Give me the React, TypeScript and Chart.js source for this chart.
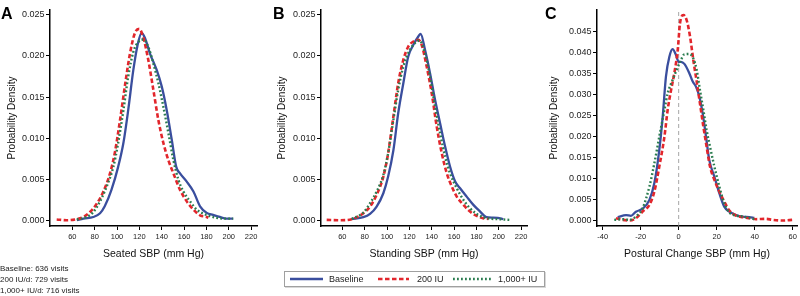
import React, { useEffect, useRef } from 'react';
import { Chart, registerables } from 'chart.js';

Chart.register(...registerables);

const FONT = "'Liberation Sans', Arial, Helvetica, sans-serif";

// ---------- Panel A: Seated SBP ----------
const seatedBaselineX = [64, 70, 78.8, 84.8, 89, 95, 101, 105.7, 110, 114.6, 118.2, 122, 125, 129.5, 135.5, 140, 144.5, 149, 153, 156.4, 162.4, 168.4, 174.3, 180.3, 186, 192, 198, 204];
const seatedBaselineY = [0.0000, 0.0002, 0.0004, 0.00085, 0.0017, 0.0037, 0.0065, 0.0094, 0.0134, 0.0183, 0.0212, 0.0228, 0.0222, 0.0203, 0.0183, 0.0163, 0.0134, 0.0098, 0.0065, 0.0057, 0.0047, 0.0035, 0.0017, 0.0009, 0.00065, 0.0004, 0.0002, 0.0002];
const seated200X = [46, 55, 62.4, 70, 75.8, 81.8, 87.8, 93.7, 98, 102.7, 107.2, 111.6, 116, 119.9, 123.6, 128, 132.5, 137, 141.5, 146, 150.5, 156.4, 162.4, 168.4, 174.3, 180.3, 181.8];
const seated200Y = [0.0001, 0.0, 0.0001, 0.0004, 0.001, 0.002, 0.0035, 0.0057, 0.0082, 0.0122, 0.0165, 0.0203, 0.0228, 0.0233, 0.0222, 0.0195, 0.0159, 0.0122, 0.0094, 0.0073, 0.0057, 0.0037, 0.0023, 0.0013, 0.0006, 0.0004, 0.0003];
const seated1000X = [64, 72.8, 78.8, 84.8, 90.7, 96.7, 101, 105.7, 110, 114.6, 119, 123.6, 128, 132.5, 137, 141.5, 146, 150.5, 155, 159.4, 165.4, 171.3, 177.3, 183.3, 189, 195, 204];
const seated1000Y = [0.0001, 0.0004, 0.001, 0.0023, 0.0041, 0.0065, 0.0094, 0.0134, 0.0175, 0.0205, 0.0217, 0.022, 0.0211, 0.0191, 0.0167, 0.0138, 0.0106, 0.0073, 0.0049, 0.0035, 0.0023, 0.0013, 0.0008, 0.0005, 0.0003, 0.0002, 0.0002];

// ---------- Panel B: Standing SBP ----------
const standingBaselineX = [68.4, 78.8, 84.8, 90.7, 96.7, 101, 105.7, 110, 114.6, 119, 123.6, 128, 130.1, 134, 138.5, 143, 147.5, 152, 156.4, 161, 165.4, 171.3, 177.3, 183.3, 189, 195, 202.5, 204];
const standingBaselineY = [0.00016, 0.00037, 0.00077, 0.00166, 0.00329, 0.00532, 0.00852, 0.01303, 0.01669, 0.01994, 0.02136, 0.02237, 0.0227, 0.02075, 0.01791, 0.01466, 0.01181, 0.00897, 0.00654, 0.00471, 0.0039, 0.00288, 0.00187, 0.00106, 0.00037, 0.00032, 0.0002, 0.00012];
const standing200X = [46, 58, 68.4, 78.8, 84.8, 90.7, 96.7, 101, 105.7, 110, 114.6, 119, 123.6, 128, 131, 135.5, 140, 144.5, 149, 153.5, 158, 162.4, 168.4, 174.3, 180.3, 186, 190.8];
const standing200Y = [0.00004, 0.0, 0.00012, 0.00085, 0.00166, 0.00309, 0.00532, 0.00816, 0.01263, 0.01669, 0.01953, 0.02115, 0.02176, 0.02196, 0.02136, 0.01872, 0.01547, 0.01141, 0.00816, 0.00572, 0.0041, 0.00288, 0.00187, 0.00106, 0.00053, 0.00024, 0.00016];
const standing1000X = [68.4, 78.8, 84.8, 90.7, 96.7, 101, 105.7, 110, 114.6, 119, 123.6, 129, 134, 138.5, 143, 147.5, 152, 156.4, 162.4, 168.4, 174.3, 180.3, 186, 192, 201, 210];
const standing1000Y = [0.00016, 0.00093, 0.00207, 0.00349, 0.00552, 0.00816, 0.01222, 0.01587, 0.01872, 0.02034, 0.02136, 0.02188, 0.02034, 0.0175, 0.01385, 0.0106, 0.00775, 0.00572, 0.0039, 0.00248, 0.00146, 0.00077, 0.00037, 0.0002, 0.00012, 0.00004];

// ---------- Panel C: Postural change SBP ----------
const posturalBaselineX = [-32.1, -27.7, -25.1, -22.5, -19, -15.4, -12.8, -10.2, -8.4, -6.7, -4.9, -3.2, -1.4, 0, 1.2, 3, 5.6, 7.4, 9.1, 10.9, 12.6, 14.4, 16.1, 18.8, 21.4, 24, 26.7, 30.2, 33.7, 37.2, 39.8];
const posturalBaselineY = [0.0008, 0.0013, 0.0011, 0.0021, 0.0028, 0.0049, 0.0089, 0.0168, 0.0247, 0.0342, 0.0389, 0.0407, 0.0393, 0.0377, 0.0377, 0.0372, 0.035, 0.033, 0.0318, 0.0294, 0.0255, 0.0199, 0.0144, 0.0104, 0.0065, 0.0033, 0.0021, 0.0013, 0.0009, 0.0008, 0.0006];
const postural200X = [-33, -29.5, -26, -22.5, -19, -15.4, -12.8, -10.2, -7.5, -5.8, -4, -2.3, -0.5, 0.7, 2.5, 4.2, 6, 7.7, 9.5, 11.2, 13, 14.7, 16.5, 18.8, 21.4, 24, 26.7, 30.2, 33.7, 37.2, 40.7, 46, 49.5, 54.7, 60];
const postural200Y = [0.00055, 0.00016, 0.0, 0.00055, 0.00214, 0.00372, 0.00688, 0.01281, 0.01993, 0.02626, 0.031, 0.03496, 0.0405, 0.04683, 0.0488, 0.04762, 0.04367, 0.03813, 0.03298, 0.02784, 0.02231, 0.01756, 0.01281, 0.00965, 0.00688, 0.00451, 0.00237, 0.00119, 0.00079, 0.00055, 0.00032, 0.0004, 0.00016, 0.0, 0.00016];
const postural1000X = [-33.9, -29.5, -26, -22.5, -19, -15.4, -12.8, -10.2, -7.5, -5.8, -3.2, -1.1, 1.2, 3, 5.6, 7.7, 9.5, 11.2, 13, 14.7, 16.5, 18.8, 21.4, 24, 26.7, 30.2, 33.7, 37.2, 39.8];
const postural1000Y = [0.00016, 0.00032, 0.00016, 0.00095, 0.00293, 0.00807, 0.01361, 0.01993, 0.02626, 0.03022, 0.03338, 0.03575, 0.03813, 0.03947, 0.03955, 0.03852, 0.03575, 0.031, 0.02626, 0.02152, 0.01756, 0.01281, 0.00807, 0.00411, 0.0019, 0.00119, 0.00095, 0.00063, 0.00032];

// ---------- ticks and labels ----------
const sbpTicks = [60, 80, 100, 120, 140, 160, 180, 200, 220];
const posturalTicks = [-40, -20, 0, 20, 40, 60];
const densityTicksAB = [0, 0.005, 0.01, 0.015, 0.02, 0.025];
const densityTicksC = [0, 0.005, 0.01, 0.015, 0.02, 0.025, 0.03, 0.035, 0.04, 0.045];
const seriesLabels = ['Baseline', '200 IU', '1,000+ IU'];
const noteLines = ['Baseline: 636 visits', '200 IU/d: 729 visits', '1,000+ IU/d: 716 visits'];

const STYLES = [
  { color: '#3a4e9e', width: 2.3, dash: [] as number[], order: 2 },
  { color: '#e2262c', width: 2.6, dash: [4.5, 2.5], order: 1 },
  { color: '#2a7c4f', width: 2.4, dash: [1.8, 2.2], order: 0 },
];

type PanelProps = {
  left: number;
  width: number;
  rightPad: number;
  xMin: number;
  xMax: number;
  yMin: number;
  yMax: number;
  xTicks: number[];
  yTicks: number[];
  xTitle: string;
  yTitlePad: number;
  xs: number[][];
  ys: number[][];
  refLine?: boolean;
};

function Panel(p: PanelProps) {
  const ref = useRef<HTMLCanvasElement>(null);
  useEffect(() => {
    if (!ref.current) return;
    const datasets: any[] = p.xs.map((xArr, i) => ({
      label: seriesLabels[i],
      data: xArr.map((x, j) => ({ x, y: p.ys[i][j] })),
      borderColor: STYLES[i].color,
      borderWidth: STYLES[i].width,
      borderDash: STYLES[i].dash,
      borderCapStyle: 'butt',
      pointRadius: 0,
      fill: false,
      cubicInterpolationMode: 'monotone',
      order: STYLES[i].order,
    }));
    if (p.refLine) {
      datasets.push({
        label: 'zero',
        data: [{ x: 0, y: p.yMin }, { x: 0, y: p.yMax }],
        borderColor: '#8f8f8f',
        borderWidth: 0.8,
        borderDash: [4, 3],
        pointRadius: 0,
        fill: false,
        order: 10,
      });
    }
    const gridOpts = {
      drawOnChartArea: false,
      drawTicks: true,
      tickLength: 4,
      tickWidth: 1,
      tickColor: '#000',
      color: '#000',
    };
    const chart = new Chart(ref.current, {
      type: 'line',
      data: { datasets },
      options: {
        animation: false,
        responsive: false,
        maintainAspectRatio: false,
        layout: { padding: { left: 0, right: p.rightPad, top: 10, bottom: 0 } },
        plugins: { legend: { display: false }, tooltip: { enabled: false } },
        scales: {
          x: {
            type: 'linear',
            min: p.xMin,
            max: p.xMax,
            afterBuildTicks: (s: any) => {
              s.ticks = p.xTicks.map((v) => ({ value: v }));
            },
            afterFit: (s: any) => {
              s.height = 44;
            },
            grid: gridOpts,
            border: { display: true, color: '#000', width: 1.5 },
            ticks: {
              autoSkip: false,
              maxRotation: 0,
              padding: 2,
              color: '#222',
              font: { family: FONT, size: 7.5 },
              callback: (v: any) => String(v),
            },
            title: {
              display: true,
              text: p.xTitle,
              color: '#111',
              font: { family: FONT, size: 10.5 },
              padding: { top: 0, bottom: 10 },
            },
          },
          y: {
            type: 'linear',
            min: p.yMin,
            max: p.yMax,
            afterBuildTicks: (s: any) => {
              s.ticks = p.yTicks.map((v) => ({ value: v }));
            },
            afterFit: (s: any) => {
              s.width = 50;
            },
            grid: gridOpts,
            border: { display: true, color: '#000', width: 1.5 },
            ticks: {
              autoSkip: false,
              padding: 1.5,
              color: '#222',
              font: { family: FONT, size: 9 },
              callback: (v: any) => Number(v).toFixed(3),
            },
            title: {
              display: true,
              text: 'Probability Density',
              color: '#111',
              font: { family: FONT, size: 10 },
              padding: { top: p.yTitlePad, bottom: 0 },
            },
          },
        },
      } as any,
    });
    return () => chart.destroy();
  }, []);
  return (
    <canvas
      ref={ref}
      width={p.width}
      height={270}
      style={{ position: 'absolute', left: p.left, top: 0, width: p.width, height: 270 }}
    />
  );
}

const letterStyle = (left: number): React.CSSProperties => ({
  position: 'absolute',
  left,
  top: 6,
  fontFamily: FONT,
  fontWeight: 'bold',
  fontSize: 16,
  lineHeight: '16px',
  color: '#000',
});

function LegendSwatch({ i }: { i: number }) {
  const s = STYLES[i];
  const w = i === 0 ? 33 : i === 1 ? 31 : 39;
  return (
    <svg width={w} height={6} style={{ display: 'block' }}>
      <line
        x1={0}
        y1={3}
        x2={w}
        y2={3}
        stroke={s.color}
        strokeWidth={s.width}
        strokeDasharray={s.dash.length ? s.dash.join(' ') : undefined}
      />
    </svg>
  );
}

export default function App() {
  const legendItems = [
    { sw: 290, tx: 329 },
    { sw: 378, tx: 417 },
    { sw: 453, tx: 498 },
  ];
  return (
    <div
      style={{
        position: 'absolute',
        left: 0,
        top: 0,
        width: 800,
        height: 296,
        background: '#fff',
        overflow: 'hidden',
      }}
    >
      <Panel
        left={0}
        width={265}
        rightPad={8}
        xMin={40}
        xMax={225.3}
        yMin={-0.0007}
        yMax={0.0256}
        xTicks={sbpTicks}
        yTicks={densityTicksAB}
        xTitle="Seated SBP (mm Hg)"
        yTitlePad={6}
        xs={[seatedBaselineX, seated200X, seated1000X]}
        ys={[seatedBaselineY, seated200Y, seated1000Y]}
      />
      <Panel
        left={271}
        width={264}
        rightPad={8}
        xMin={40.9}
        xMax={225.3}
        yMin={-0.0007}
        yMax={0.0256}
        xTicks={sbpTicks}
        yTicks={densityTicksAB}
        xTitle="Standing SBP (mm Hg)"
        yTitlePad={5}
        xs={[standingBaselineX, standing200X, standing1000X]}
        ys={[standingBaselineY, standing200Y, standing1000Y]}
      />
      <Panel
        left={547}
        width={253}
        rightPad={3}
        xMin={-43}
        xMax={62.3}
        yMin={-0.0013}
        yMax={0.05}
        xTicks={posturalTicks}
        yTicks={densityTicksC}
        xTitle="Postural Change SBP (mm Hg)"
        yTitlePad={1}
        xs={[posturalBaselineX, postural200X, postural1000X]}
        ys={[posturalBaselineY, postural200Y, postural1000Y]}
        refLine
      />
      <div style={letterStyle(1)}>A</div>
      <div style={letterStyle(273)}>B</div>
      <div style={letterStyle(545)}>C</div>
      <div
        style={{
          position: 'absolute',
          left: 0,
          top: 263,
          fontFamily: FONT,
          fontSize: 8,
          lineHeight: '11px',
          color: '#222',
          whiteSpace: 'pre',
        }}
      >
        {noteLines.map((t) => (
          <div key={t}>{t}</div>
        ))}
      </div>
      <div
        style={{
          position: 'absolute',
          left: 284,
          top: 271,
          width: 259,
          height: 14,
          border: '1px solid #a0a0a0',
          boxShadow: '1px 1px 0 #d8d8d8',
        }}
      />
      {legendItems.map((it, i) => (
        <React.Fragment key={i}>
          <div style={{ position: 'absolute', left: it.sw, top: 276 }}>
            <LegendSwatch i={i} />
          </div>
          <div
            style={{
              position: 'absolute',
              left: it.tx,
              top: 273,
              fontFamily: FONT,
              fontSize: 9,
              lineHeight: '12px',
              color: '#222',
              whiteSpace: 'nowrap',
            }}
          >
            {seriesLabels[i]}
          </div>
        </React.Fragment>
      ))}
    </div>
  );
}
